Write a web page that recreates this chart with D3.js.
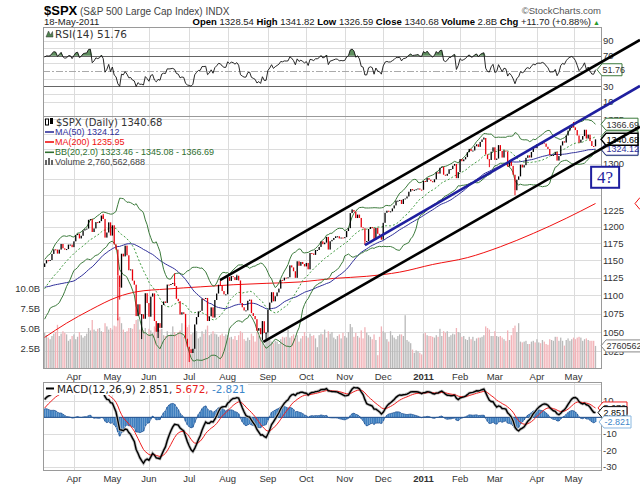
<!DOCTYPE html>
<html lang="en">
<head>
<meta charset="UTF-8">
<title>$SPX Daily - channel chart</title>
<script src="https://d3js.org/d3.v7.min.js"></script>
<style>
  body { margin: 0; background: #fff; }
  svg { display: block; font-family: "Liberation Sans", Arial, sans-serif; }
  .grid line { stroke: #dcdcdc; stroke-width: 1; shape-rendering: crispEdges; }
  .axis-label { font-size: 9.5px; fill: #333; }
  .month { font-size: 9.5px; fill: #333; text-anchor: middle; }
</style>
</head>
<body>
<svg width="640" height="485"></svg>
<script>
// ---------- data ----------
// closes before the visible window (Dec 2009 - 9 Mar 2010), used to warm up the indicators
const warmupCloses = [
  1108.86, 1109.24, 1099.92, 1105.98, 1103.25, 1091.94, 1095.95, 1102.35, 1106.41, 1114.11, 1107.93,
  1109.18, 1096.08, 1102.47, 1114.05, 1118.02, 1120.59, 1126.48, 1127.78, 1126.20, 1126.42, 1115.10,
  1132.99, 1136.52, 1137.14, 1141.69, 1144.98, 1146.98, 1136.22, 1145.68, 1148.46, 1136.03, 1150.23,
  1138.04, 1116.48, 1091.76, 1096.78, 1092.17, 1097.50, 1084.53, 1073.87,
  1089.19, 1103.32, 1097.28, 1063.11, 1066.19, 1056.74, 1070.52, 1068.13, 1078.47, 1075.51, 1094.87,
  1099.51, 1106.75, 1109.17, 1108.01, 1094.60, 1105.24, 1102.94, 1104.49,
  1115.71, 1118.31, 1118.79, 1122.97, 1138.70, 1138.50, 1140.45
];

// daily closes, 10 Mar 2010 .. 18 May 2011 (index 0 .. 301)
const closes = [
  // Mar 2010
  1145.61, 1150.24, 1149.99, 1150.51, 1159.46, 1166.21, 1165.83, 1159.90, 1165.81, 1174.17, 1167.72,
  1165.73, 1166.59, 1173.22, 1173.27, 1169.43,
  // Apr
  1178.10, 1187.44, 1189.44, 1182.45, 1186.44, 1194.37, 1196.48, 1197.30, 1210.65, 1211.67, 1192.13,
  1197.52, 1207.17, 1205.94, 1208.67, 1217.28, 1212.05, 1183.71, 1191.36, 1206.78, 1186.69,
  // May
  1202.26, 1173.60, 1165.87, 1128.15, 1110.88, 1159.73, 1155.79, 1171.67, 1157.44, 1135.68, 1136.94,
  1120.80, 1115.05, 1071.59, 1087.69, 1073.65, 1074.03, 1067.95, 1103.06, 1089.41,
  // Jun
  1070.71, 1098.38, 1102.83, 1064.88, 1050.47, 1062.00, 1055.69, 1086.84, 1091.60, 1089.63, 1115.23,
  1114.61, 1116.04, 1117.51, 1113.20, 1095.31, 1092.04, 1073.69, 1076.76, 1074.57, 1041.24, 1030.71,
  // Jul
  1027.37, 1022.58, 1028.06, 1060.27, 1070.25, 1077.96, 1078.75, 1095.34, 1095.17, 1096.48, 1064.88,
  1071.25, 1083.48, 1069.59, 1093.67, 1102.66, 1115.01, 1113.84, 1106.13, 1101.53, 1101.60,
  // Aug
  1125.86, 1120.46, 1127.24, 1125.81, 1121.64, 1127.79, 1121.06, 1089.47, 1083.61, 1079.25, 1079.38,
  1092.54, 1094.16, 1075.63, 1071.69, 1067.36, 1051.87, 1055.33, 1047.22, 1064.59, 1048.92, 1049.33,
  // Sep
  1080.29, 1090.10, 1104.51, 1091.84, 1098.87, 1104.18, 1109.55, 1121.90, 1121.10, 1125.07, 1124.66,
  1125.59, 1142.71, 1139.78, 1134.28, 1124.83, 1148.67, 1142.16, 1147.70, 1144.73, 1141.20,
  // Oct
  1146.24, 1137.03, 1160.75, 1159.97, 1158.06, 1165.15, 1165.32, 1169.77, 1178.10, 1173.81, 1176.19,
  1184.71, 1165.90, 1178.17, 1180.26, 1183.08, 1185.62, 1185.64, 1182.45, 1183.78, 1183.26,
  // Nov
  1184.38, 1193.57, 1197.96, 1221.06, 1225.85, 1223.25, 1213.40, 1218.71, 1213.54, 1199.21, 1197.75,
  1178.34, 1178.59, 1196.69, 1199.73, 1197.84, 1180.73, 1198.35, 1189.40, 1187.76, 1180.55,
  // Dec
  1206.07, 1221.53, 1224.71, 1223.12, 1223.75, 1228.28, 1233.00, 1240.40, 1240.46, 1241.59, 1235.23,
  1242.87, 1243.91, 1247.08, 1254.60, 1258.84, 1256.77, 1257.54, 1258.51, 1259.78, 1257.88, 1257.64,
  // Jan 2011
  1271.87, 1270.20, 1276.56, 1273.85, 1271.50, 1269.75, 1274.48, 1285.96, 1283.76, 1293.24, 1295.02,
  1281.92, 1280.26, 1283.35, 1290.84, 1291.18, 1296.63, 1299.54, 1276.34, 1286.12,
  // Feb
  1307.59, 1304.03, 1307.10, 1310.87, 1319.05, 1324.57, 1320.88, 1321.87, 1329.15, 1332.32, 1328.01,
  1336.32, 1340.43, 1343.01, 1315.44, 1307.40, 1306.10, 1319.88, 1327.22,
  // Mar
  1306.33, 1308.44, 1330.97, 1321.15, 1310.13, 1321.82, 1320.02, 1295.11, 1304.28, 1296.39, 1281.87,
  1256.88, 1273.72, 1279.21, 1298.38, 1293.77, 1297.54, 1309.66, 1313.80, 1310.19, 1319.44, 1328.26, 1325.83,
  // Apr
  1332.41, 1332.87, 1332.63, 1335.54, 1333.51, 1328.17, 1324.46, 1314.16, 1314.41, 1314.52, 1319.68,
  1305.14, 1312.62, 1330.36, 1337.38, 1335.25, 1347.24, 1355.66, 1360.48, 1363.61,
  // May
  1361.22, 1356.62, 1347.32, 1335.10, 1340.20, 1346.29, 1357.16, 1342.08, 1348.65, 1337.77, 1329.47,
  1328.98, 1340.68
];

// daily volume in billions of shares, same days as closes
const volumes = [
  4.4, 4.1, 3.8, 3.6, 4.0, 4.3, 4.5, 5.4, 4.0, 4.3, 4.6, 4.4, 4.2, 3.4, 3.6, 4.0,
  4.2, 3.6, 3.9, 4.5, 4.1, 3.8, 4.0, 4.3, 5.0, 4.7, 6.0, 4.8, 4.6, 4.9, 5.0, 4.6, 4.5, 5.6, 5.2, 4.8, 5.0,
  4.8, 5.3, 5.2, 6.2, 6.4, 5.6, 4.8, 4.5, 4.6, 5.0, 5.0, 4.9, 5.5, 6.0, 6.1, 4.8, 5.8, 4.7, 5.0, 4.2,
  4.9, 4.7, 4.4, 5.2, 5.0, 5.5, 4.8, 4.9, 4.1, 4.0, 4.6, 4.1, 4.3, 5.2, 4.5, 4.2, 4.5, 4.7, 5.6, 3.9, 5.4, 5.1,
  5.4, 4.2, 4.4, 5.0, 4.6, 3.7, 3.9, 4.6, 4.3, 4.8, 5.3, 4.1, 4.3, 4.6, 4.3, 4.2, 3.9, 4.1, 4.3, 4.0, 4.2,
  4.1, 3.8, 3.9, 3.6, 4.0, 3.5, 4.1, 4.6, 4.4, 3.6, 3.4, 3.8, 3.5, 4.3, 4.0, 3.3, 4.5, 4.0, 3.9, 3.8, 2.8, 3.6,
  4.4, 3.5, 3.3, 3.1, 3.4, 3.3, 3.0, 3.6, 3.9, 3.8, 3.9, 4.8, 3.8, 4.0, 4.2, 3.7, 4.1, 3.3, 3.7, 4.0, 4.5,
  4.0, 3.8, 4.3, 4.0, 4.1, 3.7, 2.6, 4.1, 4.3, 4.2, 4.8, 3.8, 4.6, 4.3, 4.5, 3.8, 3.6, 4.0, 4.2, 3.7, 4.4,
  4.0, 3.8, 4.5, 5.5, 5.1, 3.9, 4.4, 4.0, 3.8, 4.7, 3.7, 5.1, 4.4, 4.1, 3.9, 3.6, 4.2, 3.5, 1.6, 3.9, 5.2,
  4.6, 4.4, 3.6, 3.3, 4.6, 4.1, 3.8, 3.6, 4.0, 4.2, 4.2, 4.0, 6.6, 3.5, 3.3, 3.1, 2.3, 1.9, 2.2, 2.1, 1.9, 1.7,
  4.3, 4.4, 4.1, 4.0, 4.0, 3.9, 3.8, 4.1, 3.9, 4.9, 4.0, 4.6, 4.4, 4.6, 3.9, 4.1, 4.3, 4.2, 5.0, 4.5,
  4.4, 3.9, 4.0, 3.6, 3.5, 3.9, 3.6, 3.9, 3.4, 3.7, 3.8, 3.8, 3.9, 4.1, 5.2, 5.0, 4.8, 4.0, 4.0,
  4.6, 4.0, 3.9, 4.0, 3.8, 3.6, 3.4, 4.7, 3.5, 4.1, 5.0, 5.3, 4.5, 5.6, 3.3, 3.2, 3.3, 3.4, 3.0, 3.0, 3.3, 3.4, 3.2,
  3.6, 3.2, 3.1, 3.5, 3.3, 3.0, 2.9, 3.6, 3.5, 3.4, 3.9, 3.9, 3.4, 3.8, 3.4, 2.8, 3.5, 3.7, 3.4, 3.6,
  3.8, 3.6, 3.8, 3.9, 3.8, 3.4, 3.6, 3.7, 3.5, 3.4, 3.4, 3.4, 2.76
];

// notable intraday extremes [day index, price]
const wickLows = [[40, 1065.79], [41, 1094.15], [53, 1040.78], [62, 1042.17], [79, 1010.91],
                  [119, 1039.70], [121, 1040.88], [175, 1173.00], [243, 1294.26], [257, 1249.05]];
const wickHighs = [[32, 1219.80], [71, 1131.23], [96, 1120.95], [105, 1129.24], [168, 1227.08],
                   [240, 1344.07], [289, 1370.58]];

// 200-day moving average [day index, value]
const ma200Samples = [[0, 1043], [12, 1062], [25, 1080], [40, 1098], [50, 1105], [67, 1109], [85, 1112],
  [103, 1115], [121, 1117], [140, 1119], [158, 1124], [176, 1127], [194, 1133], [212, 1144], [231, 1154],
  [249, 1170], [267, 1190], [285, 1213], [301, 1236]];

// month labels at the first trading day of each month
const monthTicks = [["Apr", 16], ["May", 37], ["Jun", 57], ["Jul", 79], ["Aug", 100], ["Sep", 122],
  ["Oct", 143], ["Nov", 164], ["Dec", 185], ["2011", 207], ["Feb", 227], ["Mar", 246], ["Apr", 269], ["May", 289]];

const priceTicks = [1025, 1050, 1075, 1100, 1125, 1150, 1175, 1200, 1225, 1250, 1275, 1300, 1325, 1350, 1375];
// labels left visible beside the value tags
const priceLabels = [1025, 1050, 1075, 1100, 1125, 1150, 1175, 1200, 1225, 1300, 1375];
const volumeTicks = [2.5, 5, 7.5, 10];
const volumeTickLabels = ["2.5B", "5.0B", "7.5B", "10.0B"];
const rsiGrid = [10, 20, 40, 60, 80, 90];
const rsiTicks = [90, 70, 30, 10];
const macdGrid = [20, 10, 0, -10, -20, -30];
const macdTicks = [10, -10, -20, -30];

// hand-drawn annotations [day index, price]
const upperChannel = [[95.8, 1121.5], [325.3, 1520.9]];
const lowerChannel = [[119.5, 1037.0], [325.3, 1362.4]];
const blueTrend = [[175.0, 1172.4], [325.3, 1434.6]];
const noteAnchor = [298.6, 1294.9];
const noteText = "4?";

// last values printed in the legends and axis tags
const lastClose = 1340.68, lastMa50 = 1324.12, lastMa200 = 1235.95;
const lastBB = [1323.46, 1345.08, 1366.69];
const lastRsi = 51.76, lastMacd = 2.851, lastSignal = 5.672, lastHist = -2.821;
const lastVolume = 2.760562688;

// ---------- scales and layout ----------
const svg = d3.select("svg");
const left = 43, right = 601;
const x = d3.scaleLinear().domain([-0.9, 304]).range([left, right]);
const yRsi = d3.scaleLinear().domain([-8.4, 108.1]).range([115.7, 26.7]);
const yPrice = d3.scaleLog().domain([1003.3, 1381]).range([368, 116]);
const yVol = d3.scaleLinear().domain([0, 10]).range([368, 288]);
const yMacd = d3.scaleLinear().domain([-31.9, 21.4]).range([470, 382]);
const panels = [
  { id: "rsi", top: 26.7, bottom: 115.7 },
  { id: "price", top: 115.7, bottom: 368 },
  { id: "macd", top: 382, bottom: 470 }
];
const barW = 1.3;

// ---------- indicators from the closes ----------
const all = warmupCloses.concat(closes);
const off = warmupCloses.length;
const idx = d3.range(closes.length);

function smaAt(n, i) { return d3.mean(all.slice(i - n + 1, i + 1)); }
function sdAt(n, i) { return d3.deviation(all.slice(i - n + 1, i + 1)) * Math.sqrt((n - 1) / n); }
function ema(arr, n) {
  const k = 2 / (n + 1), out = [arr[0]];
  for (let i = 1; i < arr.length; i++) out.push(arr[i] * k + out[i - 1] * (1 - k));
  return out;
}

const ma50 = idx.map(i => smaAt(50, i + off));
const bbMid = idx.map(i => smaAt(20, i + off));
const bbUp = idx.map(i => bbMid[i] + 2 * sdAt(20, i + off));
const bbLow = idx.map(i => bbMid[i] - 2 * sdAt(20, i + off));

const rsiAll = [];
let ag = 0, al = 0;
for (let i = 1; i <= 14; i++) {
  const d = all[i] - all[i - 1];
  if (d > 0) ag += d; else al -= d;
}
ag /= 14; al /= 14;
for (let i = 15; i < all.length; i++) {
  const d = all[i] - all[i - 1];
  ag = (ag * 13 + Math.max(d, 0)) / 14;
  al = (al * 13 + Math.max(-d, 0)) / 14;
  rsiAll[i] = 100 - 100 / (1 + ag / al);
}
const rsi = idx.map(i => rsiAll[i + off]);

const ema12 = ema(all, 12), ema26 = ema(all, 26);
const macdAll = all.map((_, i) => ema12[i] - ema26[i]);
const signalAll = ema(macdAll, 9);
const macd = idx.map(i => macdAll[i + off]);
const signal = idx.map(i => signalAll[i + off]);
const hist = idx.map(i => macd[i] - signal[i]);

// ---------- clip paths ----------
const defs = svg.append("defs");
panels.forEach(p => {
  defs.append("clipPath").attr("id", "clip-" + p.id)
    .append("rect").attr("x", left).attr("y", p.top).attr("width", right - left).attr("height", p.bottom - p.top);
});

// ---------- grid ----------
const grid = svg.append("g").attr("class", "grid");
panels.forEach(p => {
  grid.selectAll(null).data(monthTicks).enter().append("line")
    .attr("x1", d => Math.round(x(d[1])) + 0.5).attr("x2", d => Math.round(x(d[1])) + 0.5)
    .attr("y1", p.top).attr("y2", p.bottom);
});
grid.selectAll(null).data(priceTicks).enter().append("line")
  .attr("x1", left).attr("x2", right)
  .attr("y1", d => Math.round(yPrice(d)) + 0.5).attr("y2", d => Math.round(yPrice(d)) + 0.5);
grid.selectAll(null).data(rsiGrid).enter().append("line")
  .attr("x1", left).attr("x2", right)
  .attr("y1", d => Math.round(yRsi(d)) + 0.5).attr("y2", d => Math.round(yRsi(d)) + 0.5);
grid.selectAll(null).data(macdGrid).enter().append("line")
  .attr("x1", left).attr("x2", right)
  .attr("y1", d => Math.round(yMacd(d)) + 0.5).attr("y2", d => Math.round(yMacd(d)) + 0.5);

// RSI reference lines
svg.selectAll(null).data([70, 30]).enter().append("line")
  .attr("x1", left).attr("x2", right)
  .attr("y1", d => Math.round(yRsi(d)) + 0.5).attr("y2", d => Math.round(yRsi(d)) + 0.5)
  .attr("stroke", "#666").attr("shape-rendering", "crispEdges");
svg.append("line").attr("x1", left).attr("x2", right)
  .attr("y1", Math.round(yRsi(50)) + 0.5).attr("y2", Math.round(yRsi(50)) + 0.5)
  .attr("stroke", "#aaa").attr("stroke-dasharray", "7,2,2,2");

// ---------- RSI panel ----------
const rsiG = svg.append("g").attr("clip-path", "url(#clip-rsi)");
rsiG.append("path").datum(idx)
  .attr("d", d3.area().x(i => x(i)).y0(yRsi(70)).y1(i => yRsi(Math.max(rsi[i], 70))))
  .attr("fill", "#5f8f5f");
rsiG.append("path").datum(idx)
  .attr("d", d3.area().x(i => x(i)).y0(yRsi(30)).y1(i => yRsi(Math.min(rsi[i], 30))))
  .attr("fill", "#c46060");
rsiG.append("path").datum(idx)
  .attr("d", d3.line().x(i => x(i)).y(i => yRsi(rsi[i])))
  .attr("fill", "none").attr("stroke", "#111").attr("stroke-width", 0.9);

// ---------- price panel ----------
const priceG = svg.append("g").attr("clip-path", "url(#clip-price)");
const prevClose = i => (i === 0 ? warmupCloses[warmupCloses.length - 1] : closes[i - 1]);

priceG.selectAll(".vol").data(idx).enter().append("rect")
  .attr("x", i => x(i) - barW / 2).attr("width", barW)
  .attr("y", i => yVol(volumes[i])).attr("height", i => yVol(0) - yVol(volumes[i]))
  .attr("fill", i => (closes[i] >= prevClose(i) ? "#b9b9b9" : "#f2b3b8"));

const lineOf = (arr, yS) => d3.line().x(i => x(i)).y(i => yS(arr[i]));
priceG.append("path").datum(d3.range(ma200Samples.length))
  .attr("d", d3.line().curve(d3.curveMonotoneX).x(k => x(ma200Samples[k][0])).y(k => yPrice(ma200Samples[k][1])))
  .attr("fill", "none").attr("stroke", "#f01010").attr("stroke-width", 1);
priceG.append("path").datum(idx).attr("d", lineOf(ma50, yPrice))
  .attr("fill", "none").attr("stroke", "#30309a").attr("stroke-width", 1);
[bbUp, bbLow].forEach(arr => {
  priceG.append("path").datum(idx).attr("d", lineOf(arr, yPrice))
    .attr("fill", "none").attr("stroke", "#3b7a3b").attr("stroke-width", 1);
});
priceG.append("path").datum(idx).attr("d", lineOf(bbMid, yPrice))
  .attr("fill", "none").attr("stroke", "#3f9a3f").attr("stroke-width", 1).attr("stroke-dasharray", "2,2");

// candles: body from the prior close to the close
const candleColor = i => (closes[i] >= prevClose(i) ? "#000" : "#e8000b");
priceG.selectAll(".wl").data(wickLows.concat(wickHighs)).enter().append("line")
  .attr("x1", d => x(d[0])).attr("x2", d => x(d[0]))
  .attr("y1", d => yPrice(closes[d[0]])).attr("y2", d => yPrice(d[1]))
  .attr("stroke", d => candleColor(d[0])).attr("stroke-width", 1);
priceG.selectAll(".candle").data(idx).enter().append("rect")
  .attr("x", i => x(i) - barW / 2).attr("width", barW)
  .attr("y", i => Math.min(yPrice(closes[i]), yPrice(prevClose(i))))
  .attr("height", i => Math.max(1, Math.abs(yPrice(closes[i]) - yPrice(prevClose(i)))))
  .attr("fill", i => candleColor(i));

// ---------- MACD panel ----------
const macdG = svg.append("g").attr("clip-path", "url(#clip-macd)");
macdG.selectAll(".hist").data(idx).enter().append("rect")
  .attr("x", i => x(i) - 0.9).attr("width", 1.8)
  .attr("y", i => Math.min(yMacd(hist[i]), yMacd(0)))
  .attr("height", i => Math.abs(yMacd(hist[i]) - yMacd(0)))
  .attr("fill", "#3f7fbf");
macdG.append("path").datum(idx).attr("d", lineOf(hist, yMacd))
  .attr("fill", "none").attr("stroke", "#1f4f8f").attr("stroke-width", 0.7);
macdG.append("line").attr("x1", left).attr("x2", right).attr("y1", yMacd(0)).attr("y2", yMacd(0))
  .attr("stroke", "#1f4f8f").attr("stroke-width", 1);
macdG.append("path").datum(idx).attr("d", lineOf(macd, yMacd))
  .attr("fill", "none").attr("stroke", "#bbb").attr("stroke-width", 3);
macdG.append("path").datum(idx).attr("d", lineOf(signal, yMacd))
  .attr("fill", "none").attr("stroke", "#f02020").attr("stroke-width", 1);
macdG.append("path").datum(idx).attr("d", lineOf(macd, yMacd))
  .attr("fill", "none").attr("stroke", "#000").attr("stroke-width", 1.4);

// ---------- panel borders ----------
panels.forEach(p => {
  svg.append("rect").attr("x", left + 0.5).attr("y", Math.round(p.top) + 0.5)
    .attr("width", right - left).attr("height", Math.round(p.bottom - p.top))
    .attr("fill", "none").attr("stroke", "#9a9a9a").attr("shape-rendering", "crispEdges");
});

// ---------- axis labels ----------
svg.selectAll(null).data(priceLabels).enter().append("text").attr("class", "axis-label")
  .attr("x", 603).attr("y", d => yPrice(d) + 3.5).text(d => d);
svg.selectAll(null).data(rsiTicks).enter().append("text").attr("class", "axis-label")
  .attr("x", 603).attr("y", d => yRsi(d) + 3.5).text(d => d);
svg.selectAll(null).data(macdTicks).enter().append("text").attr("class", "axis-label")
  .attr("x", 603).attr("y", d => yMacd(d) + 3.5).text(d => d);
svg.selectAll(null).data(volumeTicks).enter().append("text").attr("class", "axis-label")
  .attr("x", 40).attr("y", d => yVol(d) + 3.5).attr("text-anchor", "end")
  .text((d, k) => volumeTickLabels[k]);
[379.5, 481.5].forEach(yy => {
  svg.selectAll(null).data(monthTicks).enter().append("text").attr("class", "month")
    .attr("x", d => x(d[1])).attr("y", yy)
    .attr("font-weight", d => (d[0] === "2011" ? "bold" : null))
    .attr("fill", d => (d[0] === "2011" ? "#000" : "#333"))
    .text(d => d[0]);
});

// ---------- header ----------
const h1 = svg.append("text").attr("x", 44).attr("y", 15);
h1.append("tspan").text("$SPX").attr("font-weight", "bold").attr("font-size", 13).attr("fill", "#000");
h1.append("tspan").text(" (S&P 500 Large Cap Index) INDX").attr("font-size", 10).attr("fill", "#444");
svg.append("text").attr("x", 601).attr("y", 14).attr("text-anchor", "end")
  .attr("font-size", 9.5).attr("fill", "#555").text("\u00a9StockCharts.com");
svg.append("text").attr("x", 44).attr("y", 25).attr("font-size", 9.5).attr("fill", "#222").text("18-May-2011");
const stats = [["Open", "1328.54"], ["High", "1341.82"], ["Low", "1326.59"], ["Close", "1340.68"],
               ["Volume", "2.8B"], ["Chg", "+11.70 (+0.88%)"]];
const h2 = svg.append("text").attr("x", 591).attr("y", 25).attr("text-anchor", "end")
  .attr("font-size", 9.5).attr("fill", "#222");
stats.forEach((s, k) => {
  h2.append("tspan").text((k ? " " : "") + s[0]).attr("font-weight", "bold").attr("fill", "#000");
  h2.append("tspan").text(" " + s[1]);
});
svg.append("text").attr("x", 593).attr("y", 24.5).attr("font-size", 7).attr("fill", "#2a9a2a").text("\u25b2");

// ---------- legends ----------
const mono = "'DejaVu Sans', Verdana, sans-serif";
svg.append("path").attr("d", "M46,37 L48.5,31 L50.5,35 L52.5,31.5 L53,37 Z").attr("fill", "#4f834f").attr("stroke", "#333").attr("stroke-width", 0.5);
svg.append("text").attr("x", 55).attr("y", 38).attr("font-family", mono).attr("font-size", 10.5)
  .attr("fill", "#333").text("RSI(14) " + lastRsi);

svg.append("rect").attr("x", 45.5).attr("y", 119).attr("width", 3).attr("height", 6).attr("fill", "#fff").attr("stroke", "#000");
svg.append("rect").attr("x", 50).attr("y", 118).attr("width", 3).attr("height", 6).attr("fill", "#000");
svg.append("text").attr("x", 56).attr("y", 125.5).attr("font-family", mono).attr("font-size", 10)
  .attr("fill", "#333").text("$SPX (Daily) " + lastClose);
const legendRows = [
  ["MA(50) " + lastMa50, "#30309a", 135],
  ["MA(200) " + lastMa200, "#f01010", 145],
  ["BB(20,2.0) " + lastBB.join(" - "), "#2f6f2f", 155.3]
];
legendRows.forEach(r => {
  svg.append("line").attr("x1", 45).attr("x2", 54).attr("y1", r[2] - 3).attr("y2", r[2] - 3)
    .attr("stroke", r[1]).attr("stroke-width", 1.6);
  svg.append("text").attr("x", 55).attr("y", r[2]).attr("font-size", 9).attr("fill", r[1]).text(r[0]);
});
svg.selectAll(null).data([0, 1, 2]).enter().append("rect")
  .attr("x", k => 45 + k * 3).attr("y", k => 159 + (k === 1 ? -1 : 1)).attr("width", 2)
  .attr("height", k => (k === 1 ? 7 : 5)).attr("fill", "#666");
svg.append("text").attr("x", 55).attr("y", 165).attr("font-size", 9).attr("fill", "#444")
  .text("Volume " + d3.format(",")(Math.round(lastVolume * 1e9)));

svg.append("rect").attr("x", 44).attr("y", 383).attr("width", 204).attr("height", 12).attr("fill", "#fff");
svg.append("line").attr("x1", 46).attr("x2", 54).attr("y1", 388.5).attr("y2", 388.5).attr("stroke", "#000").attr("stroke-width", 2);
const ml = svg.append("text").attr("x", 57).attr("y", 392.5).attr("font-family", mono).attr("font-size", 10.4);
ml.append("tspan").text("MACD(12,26,9) " + lastMacd + ", ").attr("fill", "#222");
ml.append("tspan").text(lastSignal + ", ").attr("fill", "#e82020");
ml.append("tspan").text(lastHist).attr("fill", "#3d86c9");

// ---------- value tags on the right ----------
function tagShape(yy, stroke, x0, w, sw) {
  svg.append("path")
    .attr("d", `M${x0},${yy} L${x0 + 5},${yy - 6} L${x0 + w},${yy - 6} L${x0 + w},${yy + 6} L${x0 + 5},${yy + 6} Z`)
    .attr("fill", "#fff").attr("stroke", stroke).attr("stroke-width", sw || 1);
}
function tag(yy, label, stroke, color, x0, w, sw) {
  tagShape(yy, stroke, x0, w, sw);
  svg.append("text").attr("x", x0 + 5.5).attr("y", yy + 3.3).attr("font-size", 9).attr("fill", color).text(label);
}
tag(yRsi(lastRsi), String(lastRsi), "#3c7a3c", "#333", 597, 25);
tag(yPrice(lastBB[2]), String(lastBB[2]), "#3c7a3c", "#333", 601, 37);
tag(yPrice(lastBB[1]), String(lastBB[1]), "#3c7a3c", "#333", 601, 37);
tag(yPrice(lastBB[0]), String(lastBB[0]), "#3c7a3c", "#333", 601, 37);
tag(yPrice(lastMa50), String(lastMa50), "#30309a", "#30309a", 601, 37);
tag(yPrice(lastClose), String(lastClose), "#000", "#000", 601, 37, 1.5);
tagShape(yPrice(lastMa200), "#f01010", 635, 40);   // pushed off the right edge in the original
tag(yVol(lastVolume), "2760562", "#888", "#333", 601, 50);
tag(yMacd(lastSignal), String(lastSignal), "#f02020", "#333", 598, 29);
tag(yMacd(lastMacd), String(lastMacd), "#000", "#000", 598, 29);
tag(yMacd(lastHist), String(lastHist), "#8ab8e0", "#3d86c9", 599, 32);

// ---------- drawn annotations ----------
const seg = d3.line().x(d => x(d[0])).y(d => yPrice(d[1]));
svg.append("path").datum(upperChannel).attr("d", seg).attr("stroke", "#000").attr("stroke-width", 2.6).attr("fill", "none");
svg.append("path").datum(lowerChannel).attr("d", seg).attr("stroke", "#000").attr("stroke-width", 2.6).attr("fill", "none");
svg.append("path").datum(blueTrend).attr("d", seg).attr("stroke", "#1f1f9f").attr("stroke-width", 2.6).attr("fill", "none");

const nx = x(noteAnchor[0]), ny = yPrice(noteAnchor[1]);
svg.append("rect").attr("x", nx).attr("y", ny).attr("width", 28).attr("height", 21)
  .attr("fill", "#fff").attr("stroke", "#1f1f9f").attr("stroke-width", 2);
svg.append("text").attr("x", nx + 14).attr("y", ny + 16.5).attr("text-anchor", "middle")
  .attr("font-family", "'Liberation Serif', 'Times New Roman', serif").attr("font-size", 17)
  .attr("fill", "#1f1f9f").text(noteText);
</script>
</body>
</html>
